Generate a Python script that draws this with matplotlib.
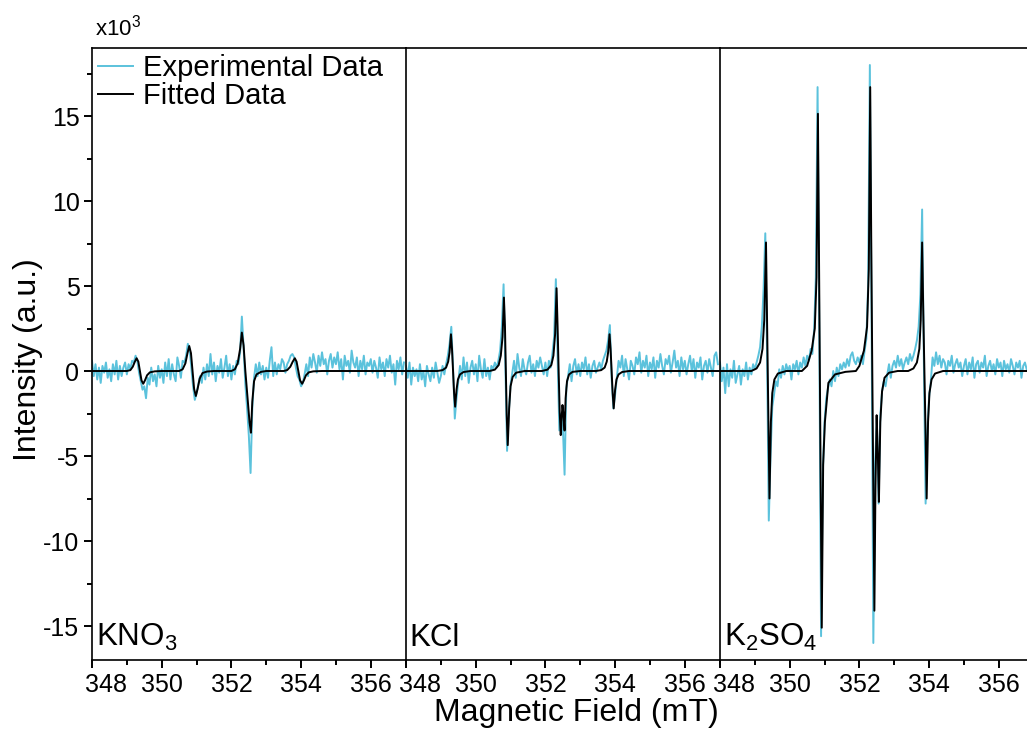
import numpy as np
import matplotlib
matplotlib.use("Agg")
import matplotlib.pyplot as plt
import matplotlib.transforms as mtransforms
from matplotlib.ticker import MultipleLocator, FuncFormatter

plt.rcParams['font.family'] = ['Liberation Sans', 'DejaVu Sans']
plt.rcParams['mathtext.default'] = 'regular'
plt.rcParams['axes.unicode_minus'] = False

# field axis of the experimental spectra (mT), one point every 0.05 mT
field_start = 348.0
field_step = 0.05

# experimental intensities (x10^3), one row per mT
exp_kno3 = [
    0.6, -0.3, 0.4, -0.5, 0.2, -0.7, 0.3, -0.1, 0.5, -0.4, 0.1, -0.6, 0.4, -0.2, 0.6, -0.5, 0.3, -0.3, 0.2, 0.5,
    -0.2, 0.4, 0.1, 0.6, 0.5, 0.9, 0.6, -0.1, -0.6, -1.1, -0.9, -1.6, -0.4, -0.8, 0.2, -0.6, -0.2, -0.9, 0.3, -0.4,
    0.1, -0.7, 0.5, -0.3, 0.7, -0.5, 0.4, -0.2, -0.6, 0.8, 0.3, -0.4, 0.6, 0.5, 0.9, 1.6, 1.3, 0.2, -0.9, -1.7,
    -1.3, -0.8, -0.3, -0.7, 0.2, -0.5, 0.4, -0.3, 1.0, -0.2, 0.5, -0.6, 0.3, -0.1, 0.7, -0.4, 0.2, 0.9, -0.3, 0.4,
    -0.5, 0.3, -0.2, 0.6, 0.4, 1.1, 3.2, 1.4, -0.8, -2.2, -3.8, -6.0, -2.2, -0.4, 0.4, -0.3, 0.5, -0.2, 0.3, -0.5,
    0.2, -0.4, 0.6, 1.4, -0.3, 0.5, -0.2, 0.4, 0.1, 0.7, 0.5, -0.1, 0.4, 0.6, 0.9, 1.0, 0.8, 0.2, -0.3, -0.5,
    -0.9, -0.7, -0.2, 0.4, -0.3, 0.8, 0.2, 1.0, 0.5, -0.1, 0.9, 0.3, 1.1, 0.4, 0.7, -0.2, 0.6, 1.0, 0.2, 0.8,
    0.4, 1.1, 0.1, 0.7, -0.5, 0.9, 0.3, 0.6, -0.1, 1.2, 0.5, 0.2, 0.8, -0.3, 0.6, 0.1, 0.9, -0.2, 0.5, 0.3,
    0.7, -0.1, 0.6, 0.2, -0.4, 0.8, 0.1, 0.5, -0.3, 0.7, 0.2, 0.9, -0.1, 0.4, -0.8, 0.6, 0.1, 0.8, -0.2, 0.5,
]
exp_kcl = [
    0.3, -0.4, 0.5, -0.8, 0.2, -0.3, 0.1, -0.6, 0.4, -0.5, 0.0, -0.9, 0.3, -0.2, -0.6, 0.2, -0.4, 0.5, -0.1, -0.7,
    -0.3, 0.3, -0.2, 0.4, 0.9, 1.6, 2.6, 0.2, -2.8, -1.6, -0.6, 0.3, -0.5, 0.8, -0.3, 0.5, -0.7, 0.2, 0.6, -0.2,
    0.4, -0.6, 0.9, 0.1, -0.4, 0.7, -0.3, 0.2, -0.5, 0.3, 0.1, 0.5, 0.2, 0.6, 1.2, 2.6, 5.1, 0.5, -4.7, -2.4,
    -0.8, -0.1, 0.6, -0.4, 1.0, 0.2, -0.3, 0.7, 0.1, -0.2, 0.5, 0.9, -0.1, 0.4, -0.3, 0.6, 0.2, 0.8, 0.3, -0.2,
    0.5, -0.3, 0.6, 0.2, 1.0, 2.0, 5.4, 0.8, -3.5, -2.5, -3.2, -6.1, -1.0, -0.3, 0.4, -0.6, 0.3, 0.7, -0.2, 0.4,
    -0.3, 0.5, 0.1, 0.8, -0.2, 0.4, -0.4, 0.3, 0.6, -0.1, 0.2, 0.5, 0.1, 0.6, 0.9, 1.2, 1.8, 2.7, -0.4, -2.2,
    -1.4, -0.4, 0.6, 0.2, 0.9, -0.3, 0.7, 0.1, -0.5, 0.6, 0.3, -0.2, 0.8, 0.4, 1.1, -0.1, 0.6, 0.2, 0.9, -0.3,
    0.5, 0.1, 0.8, -0.4, 0.6, 0.2, 1.0, 0.3, -0.2, 0.7, 0.4, 0.9, -0.1, 0.5, 1.2, 0.2, 0.6, -0.3, 0.8, 0.1,
    0.6, -0.2, 0.4, 0.9, 0.0, 0.7, -0.4, 0.5, 0.2, 0.8, -0.5, 0.3, 0.6, -0.1, 0.7, 0.2, -0.3, 0.9, 1.1, 0.4,
]
exp_k2so4 = [
    0.5, -0.6, 0.2, -1.3, 0.4, -0.9, 0.1, -0.4, 0.6, -0.7, -0.2, 0.3, -0.8, 0.1, -0.3, 0.5, -0.5, 0.2, -0.2, 0.4,
    0.1, 0.5, 0.9, 1.4, 2.6, 4.8, 8.1, 1.0, -8.8, -5.0, -2.1, -1.4, -0.6, -0.9, 0.1, -0.4, 0.3, -0.2, 0.4, 0.0,
    0.3, -0.5, 0.4, 0.1, 0.6, -0.2, 0.5, 0.2, 0.8, 0.3, 0.9, 0.6, 1.3, 1.0, 2.4, 5.5, 16.7, 2.0, -15.6, -6.0,
    -3.0, -1.6, -1.0, -0.5, -0.9, 0.0, -0.6, 0.2, -0.3, 0.4, 0.1, 0.5, 0.2, 0.7, 0.3, 0.9, 1.1, 0.6, 0.4, 0.8,
    0.5, 0.9, 0.4, 1.2, 1.9, 5.0, 18.0, 3.0, -16.0, -5.5, -2.8, -7.8, -2.6, -1.2, -0.6, -0.9, -0.2, 0.4, -0.4, 0.3,
    0.6, 0.2, 0.9, 0.3, 0.7, 0.1, 0.5, 0.8, 0.4, 1.0, 0.6, 0.9, 1.3, 1.8, 2.6, 4.5, 9.5, 0.5, -7.8, -3.5,
    -1.5, -0.6, 0.8, 0.3, 1.1, 0.4, 0.9, 0.2, 0.7, 0.5, -0.2, 0.6, 0.3, 0.9, -0.1, 0.4, 0.7, 0.2, 0.5, -0.3,
    0.3, 0.7, -0.2, 0.5, 0.1, 0.8, -0.4, 0.4, 0.6, -0.1, 0.5, 0.2, 0.9, -0.3, 0.3, 0.6, 0.0, 0.4, -0.2, 0.7,
    0.2, 0.5, -0.3, 0.6, 0.1, 0.4, -0.1, 0.7, 0.3, -0.2, 0.5, 0.2, 0.6, -0.4, 0.3, 0.5, 0.1, -0.1, 0.4, 0.2,
]

# fitted spectra (x10^3), read point by point
fit_kno3_x = [348.0, 349.0, 349.1, 349.17, 349.23, 349.28, 349.33, 349.375, 349.42, 349.47, 349.52, 349.58, 349.66, 349.8, 350.0,
              350.5, 350.6, 350.68, 350.74, 350.79, 350.84, 350.885, 350.93, 350.98, 351.03, 351.09, 351.17, 351.3, 351.5,
              352.0, 352.1, 352.18, 352.25, 352.30, 352.35, 352.40, 352.46, 352.52, 352.56, 352.60, 352.65, 352.72, 352.85, 353.0,
              353.5, 353.6, 353.69, 353.76, 353.82, 353.87, 353.92, 353.97, 354.03, 354.08, 354.14, 354.22, 354.35, 354.6, 357.0]
fit_kno3_y = [0, 0, 0.05, 0.25, 0.55, 0.75, 0.55, 0.0, -0.55, -0.75, -0.55, -0.25, -0.08, -0.02, 0,
              0, 0.1, 0.45, 1.05, 1.47, 1.05, 0.0, -1.05, -1.47, -1.05, -0.45, -0.12, -0.03, 0,
              0, 0.1, 0.45, 1.3, 2.26, 1.5, 0.0, -1.5, -3.0, -3.63, -1.8, -0.6, -0.2, -0.05, 0,
              0, 0.05, 0.25, 0.55, 0.75, 0.55, 0.0, -0.55, -0.75, -0.55, -0.25, -0.08, -0.02, 0, 0]

fit_kcl_x = [348.0, 348.9, 349.05, 349.15, 349.21, 349.25, 349.29, 349.32, 349.35, 349.38, 349.41, 349.45, 349.49, 349.55, 349.65, 349.85,
             350.4, 350.55, 350.66, 350.72, 350.77, 350.81, 350.84, 350.865, 350.89, 350.92, 350.96, 351.0, 351.06, 351.16, 351.4,
             351.9, 352.06, 352.17, 352.23, 352.28, 352.32, 352.35, 352.38, 352.41, 352.44, 352.47, 352.49, 352.52, 352.55, 352.58, 352.62, 352.68, 352.78, 353.0,
             353.45, 353.6, 353.7, 353.76, 353.8, 353.84, 353.87, 353.9, 353.93, 353.96, 354.0, 354.04, 354.1, 354.2, 354.4, 357.0]
fit_kcl_y = [0, 0, 0.05, 0.2, 0.55, 1.1, 2.16, 1.3, 0.0, -1.3, -2.1, -1.1, -0.5, -0.2, -0.06, 0,
             0, 0.08, 0.35, 0.9, 2.0, 4.32, 2.6, 0.0, -2.6, -4.36, -2.2, -0.9, -0.35, -0.1, 0,
             0, 0.08, 0.35, 0.9, 2.2, 4.87, 2.6, 0.0, -2.4, -3.77, -2.6, -2.0, -2.6, -3.5, -1.6, -0.6, -0.2, -0.05, 0,
             0, 0.05, 0.2, 0.55, 1.1, 2.16, 1.3, 0.0, -1.3, -2.2, -1.1, -0.5, -0.2, -0.06, 0, 0]

fit_k2so4_x = [348.0, 348.9, 349.05, 349.15, 349.22, 349.27, 349.32, 349.345, 349.37, 349.395, 349.42, 349.46, 349.5, 349.56, 349.66, 349.9,
               350.35, 350.5, 350.63, 350.72, 350.77, 350.81, 350.84, 350.865, 350.89, 350.92, 350.96, 351.01, 351.11, 351.3, 351.6,
               351.9, 352.0, 352.13, 352.22, 352.27, 352.31, 352.34, 352.37, 352.40, 352.43, 352.46, 352.495, 352.53, 352.56, 352.6, 352.65, 352.72, 352.85, 353.1,
               353.4, 353.55, 353.65, 353.72, 353.76, 353.80, 353.83, 353.865, 353.9, 353.93, 353.97, 354.01, 354.07, 354.17, 354.4, 357.0]
fit_k2so4_y = [0, 0, 0.15, 0.5, 1.3, 3.0, 7.56, 3.8, 0.0, -3.8, -7.5, -3.0, -1.3, -0.5, -0.15, 0,
               0, 0.3, 1.2, 2.5, 5.5, 15.13, 7.0, 0.0, -7.0, -15.1, -5.5, -3.0, -0.7, -0.2, -0.05,
               0, 0.3, 1.2, 2.6, 6.0, 16.7, 7.5, 0.0, -7.0, -14.1, -7.0, -2.6, -5.0, -7.7, -3.0, -1.2, -0.4, -0.1, 0,
               0, 0.15, 0.5, 1.3, 3.0, 7.56, 3.8, 0.0, -3.8, -7.5, -3.0, -1.3, -0.5, -0.15, 0, 0]

samples = ["KNO$_3$", "KCl", "K$_2$SO$_4$"]
exp_data = [exp_kno3, exp_kcl, exp_k2so4]
fit_data = [(fit_kno3_x, fit_kno3_y), (fit_kcl_x, fit_kcl_y), (fit_k2so4_x, fit_k2so4_y)]

exp_color = '#5bc2dc'
tick_size = 18

fig = plt.figure(figsize=(10.27, 7.51), dpi=100)
left = 92 / 1027
width = 314 / 1027
bottom = 1 - 660 / 751
height = (660 - 48) / 751

axes = []
for i in range(3):
    ax = fig.add_axes([left + i * width, bottom, width, height])
    axes.append(ax)

# the 348 label is drawn by hand, nudged right so it clears the panel edge
hide_first = FuncFormatter(lambda v, pos: '' if abs(v - 348) < 1e-6 else f'{v:.0f}')

for i, ax in enumerate(axes):
    y_exp = np.array(exp_data[i])
    x_exp = field_start + field_step * np.arange(len(y_exp))
    ax.plot(x_exp, y_exp, color=exp_color, lw=1.4, label='Experimental Data')
    fx, fy = fit_data[i]
    ax.plot(fx, fy, color='black', lw=1.4, label='Fitted Data')

    ax.set_xlim(348, 357.01)
    ax.set_ylim(-17, 19)
    ax.xaxis.set_major_locator(MultipleLocator(2))
    ax.xaxis.set_minor_locator(MultipleLocator(1))
    ax.xaxis.set_major_formatter(hide_first)
    ax.tick_params(axis='x', which='major', direction='out', length=6, width=1.4,
                   labelsize=tick_size, pad=3)
    ax.tick_params(axis='x', which='minor', direction='out', length=3.5, width=1.4)
    for s in ax.spines.values():
        s.set_linewidth(1.2)
    ax.spines['right'].set_visible(i == 2)

    shift = mtransforms.ScaledTranslation(0.145, -9.6 / 72, fig.dpi_scale_trans)
    ax.text(348, 0, '348', transform=ax.get_xaxis_transform() + shift,
            fontsize=tick_size, ha='center', va='top')

    if i == 0:
        ax.yaxis.set_major_locator(MultipleLocator(5))
        ax.yaxis.set_minor_locator(MultipleLocator(2.5))
        ax.tick_params(axis='y', which='major', direction='out', length=6, width=1.4,
                       labelsize=tick_size, pad=3)
        ax.tick_params(axis='y', which='minor', direction='out', length=3.5, width=1.4)
    else:
        ax.tick_params(axis='y', which='both', left=False, labelleft=False)

    ax.text(0.012, 0.012, samples[i], transform=ax.transAxes, fontsize=22.5,
            ha='left', va='bottom')

axes[0].legend(loc='upper left', frameon=False, fontsize=21, handlelength=1.2,
               handletextpad=0.35, labelspacing=0.0, borderaxespad=0.1,
               borderpad=0.1)

fig.text(95 / 1027, 1 - 28 / 751, 'x10$^3$', fontsize=16, ha='left', va='center')
fig.text(28 / 1027, 1 - 360 / 751, 'Intensity (a.u.)', fontsize=23, rotation=90,
         ha='center', va='center')
fig.text(576 / 1027, 1 - 713 / 751, 'Magnetic Field (mT)', fontsize=23,
         ha='center', va='center')

fig.savefig('out.png', dpi=100)
